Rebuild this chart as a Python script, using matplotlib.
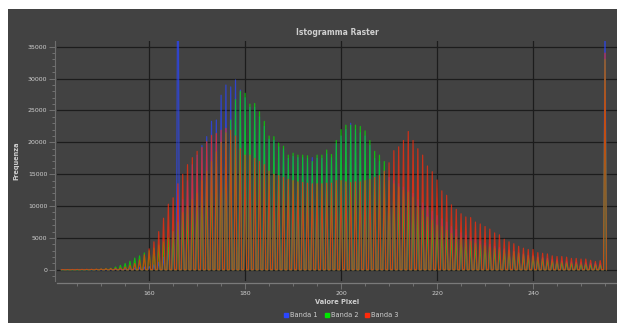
import numpy as np
import matplotlib
matplotlib.use("Agg")
import matplotlib.pyplot as plt
from matplotlib.patches import Rectangle
from matplotlib.ticker import MultipleLocator
from matplotlib.lines import Line2D

# valori pixel 142..255
valori = np.arange(142, 256)

banda1 = [0, 0, 0, 0, 0, 0, 10, 20, 30, 40,
          50, 80, 100, 150, 200, 280, 350, 450, 550, 800,
          1200, 2000, 3500, 6000, 60000, 11000, 14000, 16500, 18000, 19500,
          20900, 23300, 23500, 27400, 29000, 28700, 29800, 28200, 27000, 25500,
          25500, 24000, 22500, 20500, 20300, 19300, 19000, 17500, 17800, 17600,
          17600, 17500, 17600, 17500, 17500, 18200, 17600, 19800, 21000, 22000,
          23000, 22000, 21500, 21000, 19500, 17500, 17000, 15500, 14500, 14000,
          13500, 13000, 12500, 12000, 11000, 10500, 10000, 9200, 8500, 8000,
          7500, 6800, 6300, 5800, 5400, 5100, 4800, 4500, 4200, 4000,
          3700, 3500, 3300, 3100, 2900, 2700, 2500, 2300, 2200, 2000,
          1900, 1800, 1600, 1500, 1400, 1300, 1250, 1200, 1150, 1100,
          1050, 1000, 950, 40000]

banda2 = [0, 0, 0, 10, 20, 30, 50, 80, 120, 180,
          250, 450, 700, 1000, 1350, 1850, 2200, 2650, 3000, 3400,
          3900, 4400, 5000, 6000, 7500, 9000, 10000, 11000, 12000, 14000,
          15500, 17000, 18500, 20000, 21500, 23500, 26700, 28000, 27700, 26000,
          26100, 24800, 23300, 21000, 20900, 19900, 19400, 18000, 18300, 18000,
          18000, 17900, 17000, 18000, 18000, 18800, 18100, 20300, 22000, 22700,
          22700, 22700, 22500, 21800, 20300, 18600, 18000, 17000, 14000, 13500,
          13000, 12500, 12200, 11400, 9900, 9400, 8300, 7800, 7000, 6800,
          6200, 5700, 5200, 5000, 4700, 4500, 4200, 4000, 3800, 3600,
          3400, 3200, 3100, 3000, 2800, 2600, 2400, 2200, 2100, 1900,
          1800, 1600, 1400, 1300, 1200, 1100, 1050, 1000, 950, 900,
          850, 800, 780, 33000]

banda3 = [50, 50, 60, 70, 80, 90, 100, 120, 150, 180,
          200, 230, 280, 450, 700, 1000, 1550, 2350, 3300, 4400,
          6000, 8100, 10300, 11300, 13500, 15000, 16500, 17600, 18600, 19200,
          20100, 21100, 21400, 21900, 22200, 21900, 21000, 19000, 18000, 18000,
          17500, 17000, 16500, 15500, 15000, 14800, 14500, 14200, 14000, 13800,
          13700, 13600, 13500, 13500, 13500, 13600, 13600, 14000, 14000, 13800,
          13700, 13800, 13800, 14000, 14200, 14500, 14800, 15500, 16800, 18700,
          19300, 20300, 21700, 20300, 19000, 18000, 16300, 15400, 14100, 12400,
          11700, 10200, 9500, 8800, 8300, 8200, 7500, 7200, 6800, 6400,
          5800, 5500, 4800, 4400, 4100, 3700, 3400, 3200, 3200, 2700,
          2600, 2500, 2200, 2100, 2100, 2000, 1800, 1800, 1700, 1700,
          1500, 1300, 1450, 34000]

bande = [("Banda 1", banda1, "#2a46ff"),
         ("Banda 2", banda2, "#00e600"),
         ("Banda 3", banda3, "#ff2a0a")]


def spike(valori, conteggi, semi=0.3):
    # ogni valore intero è un picco stretto, tra un picco e l'altro si torna a zero
    x = np.column_stack([valori - semi, valori, valori + semi]).ravel()
    y = np.column_stack([np.zeros(len(valori)), conteggi, np.zeros(len(valori))]).ravel()
    return x, y


sfondo = "#424242"
testo = "#cfcfcf"

fig = plt.figure(figsize=(6.17, 3.23), dpi=100)
fig.patch.set_facecolor("white")
fig.add_artist(Rectangle((8 / 617, 0), 1, 1 - 9 / 323, transform=fig.transFigure,
                         facecolor=sfondo, edgecolor="none", zorder=-10))

ax = fig.add_axes([57 / 617, 1 - 281 / 323, 1 - 57 / 617, (281 - 41) / 323])
ax.set_facecolor(sfondo)

for nome, conteggi, colore in bande:
    x, y = spike(valori, conteggi)
    ax.plot(x, y, color=colore, lw=0.85, alpha=0.75)

ax.set_xlim(140.8, 257.5)
ax.set_ylim(-1750, 35900)

ax.xaxis.set_major_locator(MultipleLocator(20))
ax.xaxis.set_minor_locator(MultipleLocator(5))
ax.yaxis.set_major_locator(MultipleLocator(5000))
ax.yaxis.set_minor_locator(MultipleLocator(1000))

ax.grid(True, which="major", color="#1c1c1c", lw=0.9)
ax.set_axisbelow(True)

for lato in ["top", "right"]:
    ax.spines[lato].set_visible(False)
ax.spines["left"].set_color("#6e6e6e")
ax.spines["left"].set_position(("outward", 1.5))
ax.spines["bottom"].set_color("#7a7a7a")
ax.spines["bottom"].set_position(("outward", 1.5))
ax.spines["bottom"].set_linewidth(0.9)

ax.tick_params(axis="both", which="both", colors="#7a7a7a", labelcolor=testo,
               labelsize=4.5, width=0.6)
ax.tick_params(axis="both", which="major", length=4, pad=1.5)
ax.tick_params(axis="both", which="minor", length=2)

ax.set_title("Istogramma Raster", color=testo, fontsize=5.5, fontweight="bold", pad=4)
ax.set_xlabel("Valore Pixel", color=testo, fontsize=4.8, fontweight="bold", labelpad=2)
ax.set_ylabel("Frequenza", color=testo, fontsize=4.8, fontweight="bold", labelpad=6)

maniglie = [Line2D([], [], marker="s", ls="none", color=c, markersize=3.4) for _, _, c in bande]
fig.legend(maniglie, [n for n, _, _ in bande], loc="center", bbox_to_anchor=(341 / 617, 1 - 315 / 323),
           ncol=3, frameon=False, fontsize=4.8, labelcolor=testo, handletextpad=0.2,
           columnspacing=0.9, handlelength=0.8)

fig.savefig("out.png", dpi=100, facecolor=fig.get_facecolor())
